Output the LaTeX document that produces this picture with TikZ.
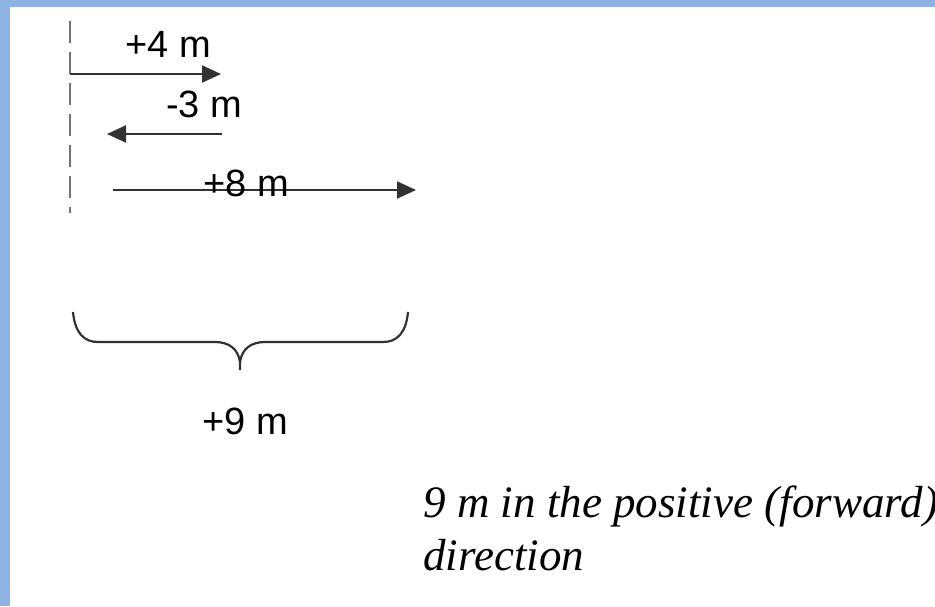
\documentclass[tikz,border=0pt]{standalone}
\usepackage{fontspec}
\setmainfont{Liberation Serif}
\setsansfont{Liberation Sans}
\definecolor{frameblue}{RGB}{141,179,226}
\definecolor{lineblack}{RGB}{50,50,50}
\usetikzlibrary{arrows.meta}

\begin{document}
\begin{tikzpicture}[x=0.5pt, y=-0.5pt,
        lbl/.style={font=\sffamily\fontsize{19}{22}\selectfont, anchor=base, inner sep=0pt},
        arr/.style={-{Triangle[length=9.5pt, width=8.5pt]}, line width=1.1pt, lineblack}
      ]
        \useasboundingbox (0,0) rectangle (935,606);
        % Frame
        \fill[frameblue] (0,0) rectangle (935,7);
        \fill[frameblue] (0,0) rectangle (10,606);
        % Start line
        \coordinate (origtop) at (70,21);
        \coordinate (origbot) at (70,213);
        \draw[black!55, line width=1.2pt, dash pattern=on 11pt off 4.5pt] (origtop) -- (origbot);
        % Displacements
        \coordinate (s1) at (70,74);   \coordinate (e1) at (221,74);
        \coordinate (s2) at (222,134); \coordinate (e2) at (107,134);
        \coordinate (s3) at (113,190); \coordinate (e3) at (416,190);
        \draw[arr] (s1) -- (e1);
        \draw[arr] (s2) -- (e2);
        \draw[arr] (s3) -- (e3);
        \node[lbl] (d1) at (168,57) {+4 m};
        \node[lbl] (d2) at (204,117) {-3 m};
        \node[lbl] (d3) at (246,196) {+8 m};
        % Brace
        \draw[lineblack, line width=1.1pt]
          (73,312) .. controls (75,333) and (84,342) .. (98,342) -- (215,342)
          .. controls (228,342) and (238,348) .. (240,362) -- (240,370);
        \draw[lineblack, line width=1.1pt]
          (408,312) .. controls (406,333) and (397,342) .. (383,342) -- (265,342)
          .. controls (252,342) and (242,348) .. (240,362);
        \node[lbl] (total) at (245,434) {+9 m};
        % Result
        \node[font=\itshape\fontsize{22.5}{26.5}\selectfont, anchor=base west, align=left, inner sep=0pt]
          (result) at (423,570) {9 m in the positive (forward)\\direction};
      \end{tikzpicture}
\end{document}
